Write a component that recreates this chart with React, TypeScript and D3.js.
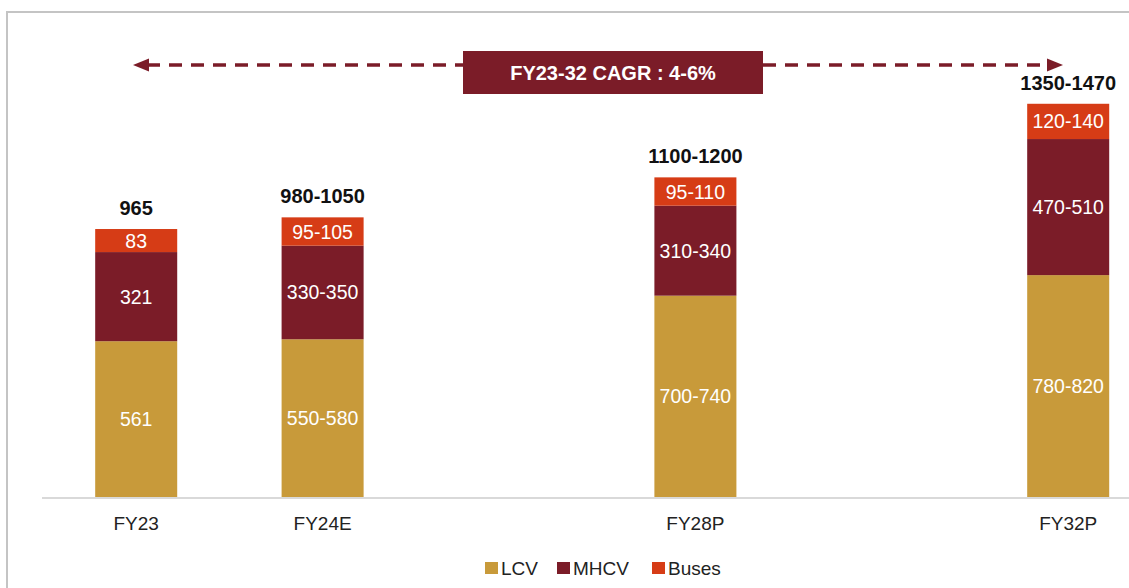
import React from "react";
import * as d3 from "d3";

const categories = ["FY23", "FY24E", "FY28P", "FY32P"];
// slots on the x axis (empty slots keep the original uneven spacing)
const slots = ["FY23", "FY24E", "", "FY28P", " ", "FY32P"];
const lcv = [561, 568, 725, 799];
const mhcv = [321, 337, 324, 490];
const buses = [83, 102, 102, 127];
const lcvLabels = ["561", "550-580", "700-740", "780-820"];
const mhcvLabels = ["321", "330-350", "310-340", "470-510"];
const busLabels = ["83", "95-105", "95-110", "120-140"];
const totalLabels = ["965", "980-1050", "1100-1200", "1350-1470"];
const seriesNames = ["LCV", "MHCV", "Buses"];
const colors = ["#C89A3A", "#7B1C28", "#D63C16"];
const cagrText = "FY23-32 CAGR : 4-6%";

const W = 1129;
const H = 588;
const FONT = "'Liberation Sans', Arial, sans-serif";

export default function App() {
  const x = d3
    .scaleBand<string>()
    .domain(slots)
    .range([43, 43 + 6 * 186.4])
    .paddingInner(0.56)
    .paddingOuter(0.28);
  const y = d3.scaleLinear().domain([0, 1500]).range([497, 497 - 1500 * 0.2777]);

  const rows = categories.map((c, i) => ({
    cat: c,
    LCV: lcv[i],
    MHCV: mhcv[i],
    Buses: buses[i],
  }));
  const stack = d3.stack<any>().keys(seriesNames)(rows);
  const segLabels = [lcvLabels, mhcvLabels, busLabels];

  const arrowY = 65;
  const xLeft = 133;
  const xRight = 1063;
  const boxX0 = 463;
  const boxX1 = 763;

  return (
    <svg
      width={W}
      height={H}
      style={{ position: "absolute", left: 0, top: 0, background: "#fff" }}
      fontFamily={FONT}
    >
      {/* frame */}
      <path d={`M7,${H + 5} L7,12 L${W + 5},12`} fill="none" stroke="#c4c4c4" strokeWidth={2} />

      {/* axis line */}
      <line x1={42} x2={W} y1={y(0) + 1} y2={y(0) + 1} stroke="#d9d9d9" strokeWidth={2} />

      {/* bars */}
      {stack.map((s, si) =>
        s.map((d, i) => {
          const x0 = x(categories[i])!;
          const bw = x.bandwidth();
          const yTop = y(d[1]);
          const yBot = y(d[0]);
          return (
            <g key={`${si}-${i}`}>
              <rect x={x0} y={yTop} width={bw} height={yBot - yTop} fill={colors[si]} />
              <text
                x={x0 + bw / 2}
                y={(yTop + yBot) / 2}
                dy="0.36em"
                textAnchor="middle"
                fill="#fff"
                fontSize={19.5}
              >
                {segLabels[si][i]}
              </text>
            </g>
          );
        })
      )}

      {/* totals */}
      {categories.map((c, i) => {
        const top = y(lcv[i] + mhcv[i] + buses[i]);
        return (
          <text
            key={c}
            x={x(c)! + x.bandwidth() / 2}
            y={top - 14}
            textAnchor="middle"
            fontWeight="bold"
            fontSize={20}
            fill="#111"
          >
            {totalLabels[i]}
          </text>
        );
      })}

      {/* x labels */}
      {categories.map((c) => (
        <text
          key={c}
          x={x(c)! + x.bandwidth() / 2}
          y={523}
          dy="0.36em"
          textAnchor="middle"
          fontSize={19}
          fill="#222"
        >
          {c}
        </text>
      ))}

      {/* CAGR arrow */}
      <line
        x1={xLeft + 14}
        x2={xRight - 14}
        y1={arrowY}
        y2={arrowY}
        stroke="#7B1C28"
        strokeWidth={3.5}
        strokeDasharray="13 9"
      />
      <path
        d={`M${xLeft},${arrowY} L${xLeft + 16},${arrowY - 6.5} L${xLeft + 16},${arrowY + 6.5} Z`}
        fill="#7B1C28"
      />
      <path
        d={`M${xRight},${arrowY} L${xRight - 16},${arrowY - 6.5} L${xRight - 16},${arrowY + 6.5} Z`}
        fill="#7B1C28"
      />
      <rect x={boxX0} y={51} width={boxX1 - boxX0} height={43} fill="#7B1C28" />
      <text
        x={(boxX0 + boxX1) / 2}
        y={73}
        dy="0.36em"
        textAnchor="middle"
        fill="#fff"
        fontWeight="bold"
        fontSize={20}
      >
        {cagrText}
      </text>

      {/* legend */}
      {seriesNames.map((n, i) => {
        const lx = [485, 557, 652][i];
        return (
          <g key={n}>
            <rect x={lx} y={562} width={13} height={12} fill={colors[i]} />
            <text x={lx + 16} y={568} dy="0.36em" fontSize={19} fill="#222">
              {n}
            </text>
          </g>
        );
      })}
    </svg>
  );
}
